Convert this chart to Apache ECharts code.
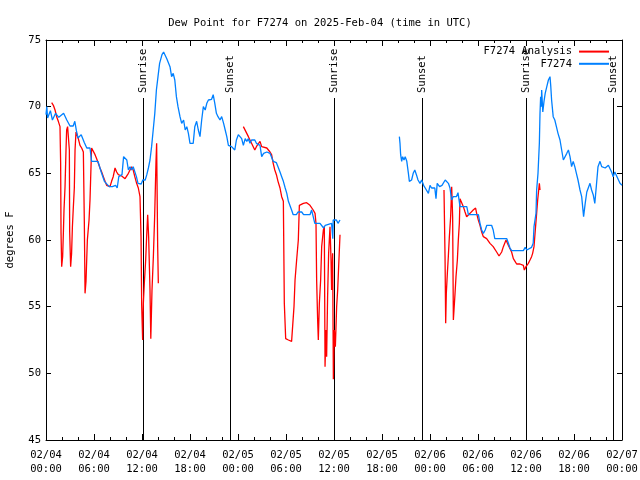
<!DOCTYPE html>
<html>
<head>
<meta charset="utf-8">
<script src="https://cdn.jsdelivr.net/npm/echarts@6/dist/echarts.min.js"></script>
<style>html,body{margin:0;padding:0;background:#fff;}#chart{width:640px;height:480px;}</style>
</head>
<body>
<div id="chart"></div>
<script>
// ---- data (hours since 2025-02-04 00:00 UTC, dew point in degrees F) ----
const titleText = 'Dew Point for F7274 on 2025-Feb-04 (time in UTC)';
const yAxisName = 'degrees F';
const analysisName = 'F7274 Analysis';
const obsName = 'F7274';

const analysisHours = [
  0.71,0.92,1.13,1.33,1.54,1.75,1.83,1.88,1.96,2.08,2.17,2.25,2.38,2.5,2.58,2.7,
  2.92,2.96,3.08,3.2,3.3,3.4,3.54,3.63,3.75,4.04,4.25,4.46,4.67,
  4.79,4.88,5.0,5.17,5.38,5.5,5.58,5.7,5.92,6.13,6.33,6.54,6.75,6.96,7.17,7.38,7.58,8.0,8.2,8.4,8.63,8.83,9.04,9.46,9.88,10.08,10.3,10.5,10.7,10.9,11.1,11.33,11.54,11.75,
  11.88,11.96,12.08,12.17,12.29,12.46,12.58,12.71,12.83,13.0,13.1,13.25,13.42,13.58,13.75,13.83,13.96,14.04,
  19.0,
  24.67,25.3,26.1,26.3,26.75,26.96,27.6,28.0,28.2,28.4,28.6,28.8,29.0,29.25,29.46,29.67,
  29.79,29.96,30.3,30.7,30.9,31.0,31.13,31.33,31.54,31.67,32.17,32.58,32.79,33.0,33.4,33.63,33.75,
  33.83,33.96,34.04,34.17,34.33,34.46,34.67,34.79,34.88,35.0,35.08,35.2,35.33,35.5,35.63,35.7,35.83,35.92,36.04,36.17,36.33,36.46,36.58,36.75,
  43.0,
  49.75,49.88,49.96,50.04,50.17,50.29,50.42,50.58,50.71,50.83,50.92,51.0,51.13,51.25,51.42,51.54,51.67,51.75,51.96,52.17,52.38,52.58,52.79,53.0,53.4,53.7,53.83,54.04,54.25,54.46,54.67,
  55.08,55.5,55.9,56.33,56.63,56.96,57.17,57.5,57.79,58.2,58.42,58.63,58.83,59.25,59.67,59.79,60.0,60.29,60.5,60.7,60.83,61.0,61.13,61.33,61.46,61.67,61.75
];
const analysisValues = [
  70.3,70.1,69.75,69.25,68.9,68.5,65.75,60.5,58.0,58.75,60.5,62.25,64.0,66.75,68.25,68.5,
  66.75,60.6,58.0,59.0,61.0,62.25,63.9,66.75,68.1,67.6,67.1,66.9,66.6,
  61.4,56.0,56.9,60.0,61.5,63.0,64.6,66.9,66.75,66.4,66.1,65.75,65.4,65.1,64.75,64.4,64.1,64.0,64.4,64.75,65.4,65.1,64.9,64.8,64.6,64.5,65.0,65.25,65.5,65.25,64.75,64.25,63.9,63.25,
  60.25,55.1,52.5,55.25,56.75,58.5,60.25,61.9,60.25,56.25,52.6,56.25,58.75,61.75,65.9,67.25,59.5,56.75,
  null,
  68.5,67.75,66.75,67.0,67.4,67.0,66.9,66.6,66.4,65.75,65.25,64.9,64.4,63.9,63.25,62.9,
  55.25,52.6,52.5,52.4,52.3,55.0,57.0,58.5,60.0,62.6,62.75,62.8,62.9,62.6,62.25,62.0,61.25,
  57.0,53.9,52.5,55.25,57.0,59.5,60.75,61.0,50.5,53.25,51.25,55.75,59.0,61.0,58.5,56.25,59.0,49.55,53.25,52.0,55.0,56.25,58.0,60.4,
  null,
  63.75,58.75,53.75,56.0,57.5,58.75,60.25,61.75,64.0,61.75,54.0,54.75,56.0,57.25,58.5,60.0,61.25,63.1,63.0,62.5,62.1,61.75,61.9,62.0,62.25,62.4,62.0,61.5,61.1,60.6,60.25,
  60.1,59.75,59.5,59.1,58.8,59.1,59.5,60.0,59.6,59.1,58.6,58.4,58.2,58.2,58.1,57.75,58.0,58.25,58.5,58.75,59.0,59.5,60.5,62.0,63.0,64.25,63.75
];

const obsHours = [
  0.0,0.1,0.2,0.55,0.8,1.2,1.6,2.2,2.6,3.0,3.4,3.6,3.8,4.0,4.4,4.8,5.1,5.5,5.7,6.5,6.9,7.3,7.9,8.3,8.7,8.9,9.1,9.5,9.7,9.9,10.1,10.3,10.5,10.7,10.9,11.1,11.3,11.5,11.9,12.1,12.4,12.6,12.8,13.0,13.2,13.4,13.6,13.8,14.0,14.2,14.5,14.7,14.9,
  15.1,15.5,15.7,15.9,16.1,16.3,16.5,16.75,16.96,17.2,17.4,17.6,17.8,18.0,18.4,18.6,18.83,19.04,19.25,19.46,19.67,19.9,20.1,20.3,20.7,20.9,21.1,21.3,21.5,21.75,21.96,22.2,22.4,22.6,22.8,23.2,23.6,23.8,
  24.04,24.25,24.46,24.67,24.9,25.1,25.3,25.5,25.7,25.9,26.1,26.3,26.5,26.75,26.96,27.2,27.6,28.0,28.2,28.4,28.8,29.0,29.25,29.46,29.67,29.9,30.1,30.3,30.5,30.7,30.9,31.3,31.5,31.75,31.96,32.2,33.0,33.2,33.4,33.6,34.25,34.5,34.7,34.9,35.1,35.7,35.85,35.9,36.3,36.5,36.75,
  40.0,
  44.17,44.25,44.33,44.46,44.58,44.75,44.9,45.1,45.3,45.42,45.7,45.9,46.1,46.3,46.5,46.75,46.96,47.2,47.4,47.8,48.0,48.2,48.4,48.6,48.75,48.9,49.2,49.3,49.5,49.67,49.9,50.1,50.3,50.5,50.7,50.9,51.3,51.5,51.75,52.6,52.8,54.05,54.25,54.46,54.67,54.9,55.1,55.3,55.7,55.9,56.1,57.6,57.8,58.0,58.2,59.67,59.9,60.1,60.3,60.7,60.9,
  61.0,61.25,61.33,61.5,61.67,61.75,61.83,61.92,61.96,62.1,62.25,62.4,62.6,62.8,63.0,63.1,63.2,63.4,63.6,63.8,64.0,64.25,64.46,64.67,64.9,65.1,65.3,65.5,65.7,65.9,66.1,66.3,66.5,66.75,66.96,67.2,67.4,67.6,67.8,68.0,68.2,68.4,68.6,68.8,69.0,69.25,69.46,69.9,70.3,70.5,70.7,70.9,71.1,71.3,71.75,72.0
];
const obsValues = [
  69.4,70.0,69.15,69.7,69.0,69.5,69.2,69.5,69.0,68.55,68.55,68.9,68.2,67.65,67.9,67.3,66.9,66.9,65.9,65.9,65.1,64.4,64.0,64.0,64.1,63.9,64.75,64.9,66.25,66.4,66.0,65.25,65.5,65.25,65.5,65.4,64.75,64.25,64.2,64.5,64.5,64.9,65.4,66.0,67.0,68.25,69.5,71.25,72.25,73.25,73.9,74.1,74.1,
  73.6,73.0,72.25,72.5,72.0,70.75,70.0,69.25,68.75,69.0,68.25,68.5,68.0,67.25,67.25,68.5,68.9,68.25,67.75,69.0,70.0,69.75,70.25,70.5,70.55,70.9,70.25,69.5,69.25,69.0,69.25,68.75,68.25,67.75,67.1,67.0,66.75,67.5,
  67.9,67.8,67.6,67.1,67.6,67.4,67.6,67.25,67.5,67.6,67.5,67.25,67.4,67.1,66.25,66.5,66.6,66.5,66.5,65.9,65.8,65.5,65.1,64.75,64.4,63.9,63.5,62.9,62.75,62.25,61.9,61.9,62.1,62.25,62.1,61.9,61.9,62.25,61.75,61.25,61.25,61.1,60.9,61.1,61.25,61.25,60.1,61.5,61.5,61.25,61.5,
  null,
  67.75,67.25,66.4,65.9,66.25,66.0,66.25,65.9,65.0,64.4,64.5,65.0,65.25,64.9,64.5,64.25,64.5,64.1,63.9,63.5,64.1,63.9,64.0,63.9,63.1,64.25,64.0,63.9,64.1,64.25,64.5,64.6,64.25,63.9,63.0,63.25,63.25,63.55,62.5,62.5,61.9,61.9,61.25,60.75,60.5,60.75,61.1,61.2,61.1,60.75,60.1,60.1,59.75,59.4,59.2,59.2,59.45,59.25,59.4,59.45,59.75,
  61.0,62.0,63.75,65.0,67.25,69.5,70.75,70.0,71.25,69.6,70.4,71.0,71.5,72.0,72.25,71.5,70.5,69.25,69.0,68.5,68.0,67.5,66.75,66.0,65.9,66.5,66.75,66.25,65.5,65.9,65.5,65.0,64.5,63.75,63.25,61.75,62.75,63.6,63.75,64.25,63.75,63.4,62.75,64.1,65.5,65.9,65.5,65.4,65.6,65.6,65.1,64.75,65.1,65.0,64.25,64.1
];

const sunHours = [12.17, 23.0, 36.04, 47.04, 60.04, 70.9];
const sunLabels = ['Sunrise', 'Sunset', 'Sunrise', 'Sunset', 'Sunrise', 'Sunset'];

const xMin = 0, xMax = 72, xStep = 6;
const yMin = 45, yMax = 75, yStep = 5;

// ---- chart ----
const FONT = '"DejaVu Sans Mono", "Liberation Mono", monospace';
function pad(n){ return (n < 10 ? '0' : '') + n; }
function fmtX(h){
  const day = 4 + Math.floor(h / 24);
  const hh = Math.round(h % 24);
  return '02/' + pad(day) + '\n' + pad(hh) + ':00';
}
const zip = (hs, vs) => hs.map((h, i) => [h, vs[i]]);

const chart = echarts.init(document.getElementById('chart'), null, {renderer: 'canvas'});
const tickStyle = {color: '#000', width: 1};
chart.setOption({
  animation: false,
  backgroundColor: '#fff',
  title: {
    text: titleText, left: 'center', top: 13,
    textStyle: {fontFamily: FONT, fontSize: 10.5, fontWeight: 'normal', color: '#000'}
  },
  legend: {
    orient: 'vertical', right: 25, top: 41, align: 'right',
    itemWidth: 30, itemHeight: 14, itemGap: 1,
    data: [analysisName, obsName],
    itemStyle: {opacity: 0},
    textStyle: {fontFamily: FONT, fontSize: 10.5, color: '#000', padding: [0, 2, 0, 0]}
  },
  grid: {left: 46, right: 18, top: 40, bottom: 40, containLabel: false, outerBoundsMode: 'none'},
  xAxis: [{
    type: 'value', min: xMin, max: xMax, interval: xStep,
    axisLine: {show: true, lineStyle: tickStyle},
    axisTick: {inside: true, length: 6, lineStyle: tickStyle},
    minorTick: {show: true, splitNumber: 3, length: 3, lineStyle: tickStyle},
    splitLine: {show: false},
    axisLabel: {formatter: fmtX, fontFamily: FONT, fontSize: 10.5, color: '#000', margin: 8, lineHeight: 14}
  }, {
    type: 'value', position: 'top', min: xMin, max: xMax, interval: xStep,
    axisLine: {show: true, onZero: false, lineStyle: tickStyle},
    axisTick: {inside: true, length: 6, lineStyle: tickStyle},
    minorTick: {show: true, splitNumber: 3, length: 3, lineStyle: tickStyle},
    splitLine: {show: false},
    axisLabel: {show: false}
  }],
  yAxis: [{
    type: 'value', min: yMin, max: yMax, interval: yStep,
    name: yAxisName, nameLocation: 'middle', nameRotate: 90, nameGap: 30,
    nameTextStyle: {fontFamily: FONT, fontSize: 10.5, color: '#000'},
    axisLine: {show: true, lineStyle: tickStyle},
    axisTick: {inside: true, length: 5, lineStyle: tickStyle},
    splitLine: {show: false},
    axisLabel: {fontFamily: FONT, fontSize: 10.5, color: '#000', margin: 5}
  }, {
    type: 'value', position: 'right', min: yMin, max: yMax, interval: yStep,
    axisLine: {show: true, onZero: false, lineStyle: tickStyle},
    axisTick: {inside: true, length: 5, lineStyle: tickStyle},
    splitLine: {show: false},
    axisLabel: {show: false}
  }],
  series: [{
    name: 'sun', type: 'custom', xAxisIndex: 0, yAxisIndex: 0, silent: true, z: 1,
    data: sunHours.map((h, i) => [h, i]),
    renderItem: function (params, api) {
      const h = api.value(0);
      const idx = api.value(1);
      const pb = api.coord([h, yMin]);
      const pt = api.coord([h, yMax]);
      const x = Math.round(pb[0]) + 0.5;
      const yTop = pt[1] + 58;
      return {
        type: 'group',
        children: [{
          type: 'line',
          shape: {x1: x, y1: pb[1], x2: x, y2: yTop},
          style: {stroke: '#000', lineWidth: 1}
        }, {
          type: 'text', x: x, y: yTop - 5, rotation: Math.PI / 2,
          style: {text: sunLabels[idx], fill: '#000', font: '10.5px ' + FONT, align: 'left', verticalAlign: 'middle'}
        }]
      };
    }
  }, {
    name: analysisName, type: 'line', xAxisIndex: 0, yAxisIndex: 0,
    data: zip(analysisHours, analysisValues), showSymbol: false, symbol: 'none',
    connectNulls: false, color: '#ff0000', lineStyle: {color: '#ff0000', width: 1.3}, z: 2
  }, {
    name: obsName, type: 'line', xAxisIndex: 0, yAxisIndex: 0,
    data: zip(obsHours, obsValues), showSymbol: false, symbol: 'none',
    connectNulls: false, color: '#0080ff', lineStyle: {color: '#0080ff', width: 1.3}, z: 3
  }]
});
</script>
</body>
</html>
